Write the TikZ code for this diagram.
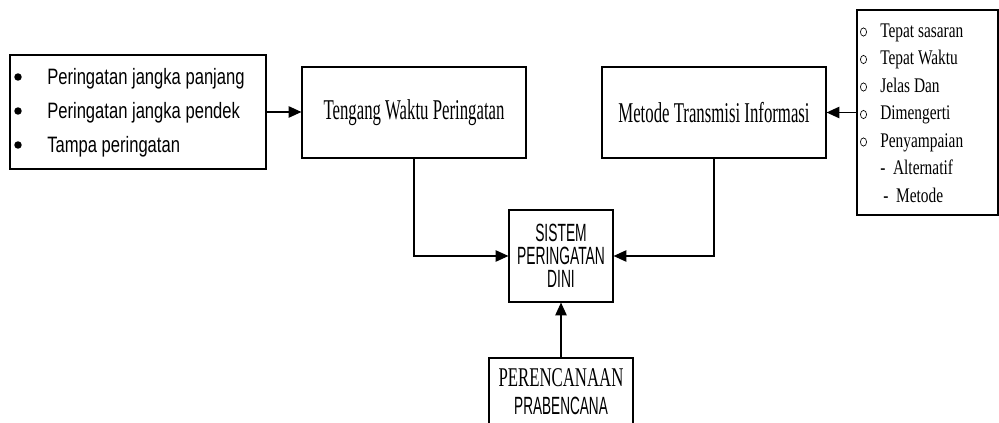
\documentclass[tikz,border=0pt]{standalone}
\usepackage{fontspec}
\setmainfont{Liberation Serif}
\newfontfamily\arialf{Liberation Sans}
\usetikzlibrary{arrows.meta}
\newcommand\hs[2]{\scalebox{#1}[1]{#2}}
\begin{document}
\begin{tikzpicture}[x=0.75pt,y=-0.75pt,
  box/.style={draw,line width=0.9pt,inner sep=0pt,anchor=center},
  con/.style={line width=0.9pt,-{Triangle[length=9.5pt,width=8.5pt]}},
  lbl/.style={inner sep=0pt,anchor=base west},
  lfont/.style={font=\arialf\fontsize{16.7}{18}\selectfont},
  rfont/.style={font=\fontsize{15.6}{17}\selectfont},
]
\useasboundingbox (0,0) rectangle (999,423);
% boxes
\node[box,minimum width=192pt,minimum height=85.5pt] (L) at (138,112) {};
\node[box,minimum width=168pt,minimum height=68.25pt,font=\fontsize{21.5}{23}\selectfont] (T) at (414,112.5) {\hs{0.585}{Tengang Waktu Peringatan}};
\node[box,minimum width=168pt,minimum height=68.25pt,font=\fontsize{21.5}{23}\selectfont] (M) at (714,112.5) {\hs{0.585}{Metode Transmisi Informasi}};
\node[box,minimum width=105.75pt,minimum height=153.75pt] (R) at (927.5,112.5) {};
\node[box,minimum width=78pt,minimum height=69pt,align=center,font=\arialf\fontsize{18.7}{17.25}\selectfont] (S) at (561,256) {\hs{0.555}{SISTEM}\\\hs{0.555}{PERINGATAN}\\\hs{0.555}{DINI}};
\node[box,minimum width=108pt,minimum height=61.5pt] (P) at (561,399) {};
% left list
\foreach \yy in {77,111,145} \fill (18,\yy) circle[radius=2.8pt];
\node[lbl,lfont] (l1) at (47,85) {\hs{0.745}{Peringatan jangka panjang}};
\node[lbl,lfont] (l2) at (47,119) {\hs{0.745}{Peringatan jangka pendek}};
\node[lbl,lfont] (l3) at (47,153) {\hs{0.745}{Tampa peringatan}};
% right list
\foreach \yy in {32,59.5,87,114.5,142} \draw[line width=0.5pt] (863.5,\yy) ellipse[x radius=2.3pt,y radius=3.1pt];
\node[lbl,rfont] (r1) at (880,37.5) {\hs{0.74}{Tepat sasaran}};
\node[lbl,rfont] (r2) at (880,65) {\hs{0.74}{Tepat Waktu}};
\node[lbl,rfont] (r3) at (880,92.5) {\hs{0.74}{Jelas Dan}};
\node[lbl,rfont] (r4) at (880,120) {\hs{0.74}{Dimengerti}};
\node[lbl,rfont] (r5) at (880,147.5) {\hs{0.74}{Penyampaian}};
\node[lbl,rfont] (r6) at (880,175) {\hs{0.74}{-\ \ Alternatif}};
\node[lbl,rfont] (r7) at (883,202.5) {\hs{0.74}{-\ \ Metode}};
% bottom box text
\node[inner sep=0pt,anchor=base,font=\fontsize{20.3}{21}\selectfont] (p1) at (561,387) {\hs{0.62}{PERENCANAAN}};
\node[inner sep=0pt,anchor=base,font=\arialf\fontsize{18.7}{19}\selectfont] (p2) at (561,415) {\hs{0.545}{PRABENCANA}};
% connectors
\draw[con] (L.east) -- (L.east -| T.west);
\draw[con] (R.west) -- (M.east);
\draw[con] (T.south) |- (S.west);
\draw[con] (M.south) |- (S.east);
\draw[con] (P.north) -- (S.south);
\end{tikzpicture}
\end{document}
